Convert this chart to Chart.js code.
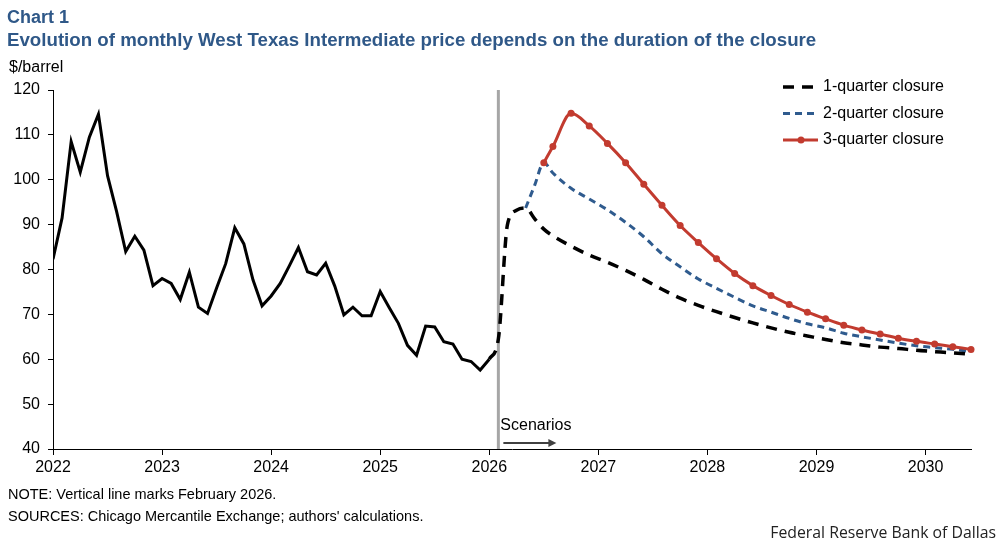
<!DOCTYPE html>
<html>
<head>
<meta charset="utf-8">
<script src="https://cdn.jsdelivr.net/npm/chart.js@4.4.1/dist/chart.umd.min.js"></script>
<style>
  body { margin: 0; background: #fff; }
  #wrap { position: relative; width: 997px; height: 541px; font-family: "Liberation Sans", Arial, sans-serif; color: #000; }
  canvas { position: absolute; left: 0; top: 0; }
  .t { position: absolute; white-space: nowrap; line-height: 1; }
  .head { color: #2f5888; font-weight: bold; font-size: 18px; left: 7px; }
  .note { font-size: 14.5px; left: 8px; }
</style>
</head>
<body>
<div id="wrap">
  <canvas id="chart" width="997" height="541"></canvas>
  <div class="t head" style="top:8px">Chart 1</div>
  <div class="t head" style="top:31px; font-size:18.7px">Evolution of monthly West Texas Intermediate price depends on the duration of the closure</div>
  <div class="t" style="top:59px; left:9px; font-size:16px">$/barrel</div>
  <div class="t note" style="top:487px">NOTE: Vertical line marks February 2026.</div>
  <div class="t note" style="top:509px">SOURCES: Chicago Mercantile Exchange; authors' calculations.</div>
  <div class="t" style="top:525px; right:1px; font-size:15.8px; font-family:'Open Sans', sans-serif; color:#222">Federal Reserve Bank of Dallas</div>
</div>
<script>
// x axis: months counted from Jan 2022 (= 0)
const yearLabels = ['2022', '2023', '2024', '2025', '2026', '2027', '2028', '2029', '2030'];
const closureMonth = 49; // February 2026

// monthly WTI, Jan 2022 - Jan 2026
const wtiHistory = [
  82.3, 91.5, 108.5, 101.7, 109.5, 114.6, 100.9, 92.9, 84.0, 87.4, 84.3, 76.4,
  78.0, 76.9, 73.3, 79.4, 71.6, 70.2, 75.9, 81.3, 89.3, 85.7, 77.7, 71.9,
  74.1, 76.9, 80.8, 84.9, 79.5, 78.8, 81.4, 76.3, 69.9, 71.6, 69.7, 69.7,
  75.1, 71.5, 68.0, 63.1, 60.9, 67.4, 67.2, 63.9, 63.4, 60.0, 59.5, 57.6,
  60.0
];

// scenario dates (same month count)
const scenarioMonths = [48, 49, 50, 51, 52, 53, 54, 55, 57, 59, 61, 63, 65, 67, 69, 71,
  73, 75, 77, 79, 81, 83, 85, 87, 89, 91, 93, 95, 97, 99, 101];

const oneQuarter = [60.0, 64.5, 90.0, 93.2, 93.7, 91.3, 89.0, 87.5, 85.2, 83.2, 81.6, 79.8, 77.8, 75.6, 73.6, 72.0,
  70.6, 69.3, 68.1, 67.0, 66.0, 65.2, 64.4, 63.7, 63.2, 62.7, 62.4, 62.0, 61.7, 61.4, 61.1];
const twoQuarter = [null, null, null, null, 93.7, 98.8, 103.8, 101.5, 98.1, 95.7, 93.3, 90.5, 87.3, 83.5, 80.6, 77.9,
  75.8, 73.8, 71.9, 70.5, 69.1, 67.9, 67.0, 65.8, 65.0, 64.3, 63.6, 63.0, 62.6, 62.2, 61.7];
const threeQuarter = [null, null, null, null, null, null, 103.8, 107.4, 114.8, 112.0, 108.1, 103.8, 99.0, 94.3, 89.8, 86.0,
  82.4, 79.1, 76.4, 74.2, 72.2, 70.5, 69.0, 67.6, 66.5, 65.6, 64.7, 64.0, 63.4, 62.8, 62.2];

function toPoints(values) {
  return scenarioMonths
    .map((m, i) => ({ x: m, y: values[i] }))
    .filter(p => p.y !== null);
}

const font = { family: '"Liberation Sans", Arial, sans-serif', size: 16 };

// legend drawn inside the plot, top right
const scenarioLegend = {
  id: 'scenarioLegend',
  afterDraw(chart) {
    const { ctx, chartArea } = chart;
    const x0 = chartArea.right - 188;
    chart.data.datasets.filter(d => d.inLegend).forEach((ds, i) => {
      const y = chartArea.top - 3 + i * 26.5;
      ctx.save();
      ctx.strokeStyle = ds.borderColor;
      ctx.lineWidth = ds.borderWidth;
      ctx.setLineDash(ds.borderDash || []);
      ctx.beginPath();
      ctx.moveTo(x0, y);
      ctx.lineTo(x0 + 35, y);
      ctx.stroke();
      if (ds.pointRadius) {
        ctx.setLineDash([]);
        ctx.fillStyle = ds.borderColor;
        ctx.beginPath();
        ctx.arc(x0 + 18, y, ds.pointRadius, 0, Math.PI * 2);
        ctx.fill();
      }
      ctx.fillStyle = '#000';
      ctx.font = '16px "Liberation Sans", Arial, sans-serif';
      ctx.textBaseline = 'middle';
      ctx.fillText(ds.label, x0 + 40, y);
      ctx.restore();
    });
  }
};

// "Scenarios" label with arrow right of the vertical line
const scenarioArrow = {
  id: 'scenarioArrow',
  afterDatasetsDraw(chart) {
    const { ctx, chartArea, scales } = chart;
    const x = scales.x.getPixelForValue(closureMonth);
    const yA = chartArea.bottom - 6;
    ctx.save();
    ctx.fillStyle = '#000';
    ctx.font = '16px "Liberation Sans", Arial, sans-serif';
    ctx.textBaseline = 'alphabetic';
    ctx.fillText('Scenarios', x + 2, chartArea.bottom - 19);
    ctx.strokeStyle = '#404040';
    ctx.fillStyle = '#404040';
    ctx.lineWidth = 2;
    ctx.beginPath();
    ctx.moveTo(x + 5, yA);
    ctx.lineTo(x + 51, yA);
    ctx.stroke();
    ctx.beginPath();
    ctx.moveTo(x + 58, yA);
    ctx.lineTo(x + 50, yA - 4);
    ctx.lineTo(x + 50, yA + 4);
    ctx.closePath();
    ctx.fill();
    ctx.restore();
  }
};

new Chart(document.getElementById('chart'), {
  type: 'line',
  data: {
    datasets: [
      {
        label: 'WTI',
        data: wtiHistory.map((v, i) => ({ x: i, y: v })),
        borderColor: '#000',
        borderWidth: 3,
        pointRadius: 0,
        tension: 0,
        order: 1
      },
      {
        label: '1-quarter closure',
        inLegend: true,
        data: toPoints(oneQuarter),
        borderColor: '#000',
        borderWidth: 3.5,
        borderDash: [11, 8],
        pointRadius: 0,
        cubicInterpolationMode: 'monotone',
        order: 2
      },
      {
        label: '2-quarter closure',
        inLegend: true,
        data: toPoints(twoQuarter),
        borderColor: '#2f5b8e',
        borderWidth: 3,
        borderDash: [7, 5],
        pointRadius: 0,
        cubicInterpolationMode: 'monotone',
        order: 3
      },
      {
        label: '3-quarter closure',
        inLegend: true,
        data: toPoints(threeQuarter),
        borderColor: '#c23b2f',
        backgroundColor: '#c23b2f',
        borderWidth: 3,
        pointRadius: 3.5,
        pointBorderWidth: 0,
        cubicInterpolationMode: 'monotone',
        clip: 6,
        order: 0
      },
      {
        label: 'Feb 2026',
        data: [{ x: closureMonth, y: 40 }, { x: closureMonth, y: 120 }],
        borderColor: '#a6a6a6',
        borderWidth: 3,
        pointRadius: 0,
        order: 10
      }
    ]
  },
  options: {
    responsive: false,
    animation: false,
    events: [],
    layout: { padding: { top: 90, right: 26, bottom: 0, left: 0 } },
    plugins: { legend: { display: false }, tooltip: { enabled: false } },
    scales: {
      x: {
        type: 'linear',
        min: 0,
        max: 101,
        afterBuildTicks: scale => {
          scale.ticks = yearLabels.map((_, i) => ({ value: i * 12 }));
        },
        afterFit: scale => { scale.height = 92; },
        ticks: {
          callback: v => yearLabels[v / 12],
          color: '#000',
          font: font,
          padding: 3,
          maxRotation: 0
        },
        grid: { drawOnChartArea: false, drawTicks: true, tickLength: 6, color: '#000' },
        border: { color: '#000', width: 1 }
      },
      y: {
        min: 40,
        max: 120,
        afterFit: scale => { scale.width = 53; },
        ticks: { stepSize: 10, color: '#000', font: font, padding: 8 },
        grid: { drawOnChartArea: false, drawTicks: true, tickLength: 5, color: '#000' },
        border: { color: '#000', width: 1 }
      }
    }
  },
  plugins: [scenarioLegend, scenarioArrow]
});
</script>
</body>
</html>
